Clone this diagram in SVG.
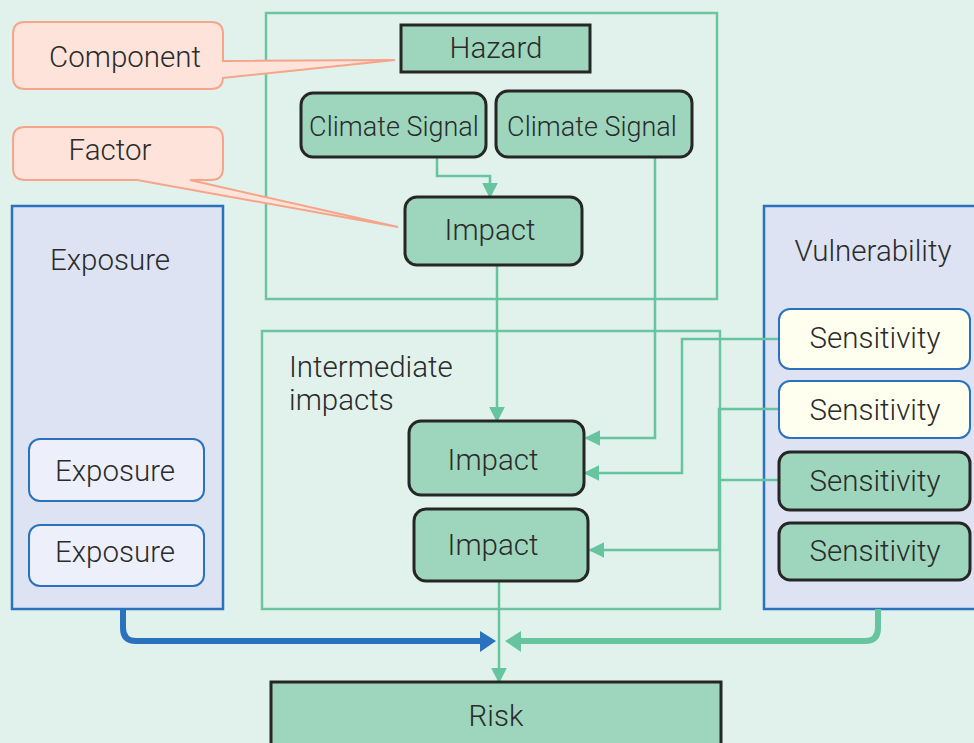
<svg xmlns="http://www.w3.org/2000/svg" width="974" height="743" viewBox="0 0 974 743">
<defs>
<style>
text{font-family:Roboto,"Liberation Sans",sans-serif;font-weight:300;fill:#2b2b2b;text-anchor:middle;dominant-baseline:central;font-size:29.5px}
.green{fill:#9dd6bd;stroke:#262626;stroke-width:3}
.frame{fill:none;stroke:#6cc5a0;stroke-width:2.5}
.panel{fill:#dde3f2;stroke:#2a72bd;stroke-width:2.5}
.call{fill:#fde3d9;stroke:#f4a58a;stroke-width:2}
.conn{fill:none;stroke:#66c49e;stroke-width:2.5}
.sensY{fill:#fffff0;stroke:#2a72bd;stroke-width:2}
.expo{fill:#edf0fb;stroke:#2a72bd;stroke-width:2}
</style>
<marker id="agS" viewBox="0 0 10 10" refX="9" refY="5" markerWidth="16" markerHeight="16" orient="auto" markerUnits="userSpaceOnUse">
<path d="M0,0 L10,5 L0,10 z" fill="#66c49e"/>
</marker>
</defs>
<rect x="0" y="0" width="974" height="743" fill="#e1f2ec"/>

<g id="hazard-frame"><rect class="frame" x="266" y="13" width="451" height="286"/></g>
<g id="intermediate-frame"><rect class="frame" x="262" y="331" width="458" height="278"/>
<text x="289" y="367" style="text-anchor:start">Intermediate</text>
<text x="289" y="400" style="text-anchor:start">impacts</text></g>

<g id="exposure-panel"><rect class="panel" x="12" y="206" width="211" height="403"/>
<text x="110" y="260">Exposure</text></g>
<g id="vulnerability-panel"><rect class="panel" x="764" y="206" width="214" height="403"/>
<text x="873" y="251">Vulnerability</text></g>

<g id="connectors">
<path class="conn" d="M437,157 V176 H490 V197" marker-end="url(#agS)"/>
<path class="conn" d="M497,265 V421" marker-end="url(#agS)"/>
<path class="conn" d="M655,157 V438 H586" marker-end="url(#agS)"/>
<path class="conn" d="M778,339 H682 V473 H585" marker-end="url(#agS)"/>
<path class="conn" d="M778,409 H719 V550 H590" marker-end="url(#agS)"/>
<path class="conn" d="M778,480 H719"/>
<path class="conn" d="M499,581 V682" marker-end="url(#agS)"/>
<path d="M123,609 V628 Q123,641 136,641 H482" fill="none" stroke="#2a72bd" stroke-width="6"/>
<path d="M480,631 L496,641 L480,652 z" fill="#2a72bd"/>
<path d="M878,609 V628 Q878,641 865,641 H520" fill="none" stroke="#66c49e" stroke-width="6"/>
<path d="M521,631 L505,641 L521,652 z" fill="#66c49e"/>
</g>

<g id="component-callout">
<path class="call" d="M25,22 H211 Q223,22 223,34 V61 L395,60 L223,78 V77 Q223,89 211,89 H25 Q13,89 13,77 V34 Q13,22 25,22 Z"/>
<text x="125" y="57">Component</text></g>
<g id="factor-callout">
<path class="call" d="M25,127 H211 Q223,127 223,139 V168 Q223,180 211,180 H190 L398,227 L137,180 H25 Q13,180 13,168 V139 Q13,127 25,127 Z"/>
<text x="110" y="150">Factor</text></g>

<g id="hazard"><rect class="green" x="401" y="25" width="189" height="47"/>
<text x="496" y="48">Hazard</text></g>
<g id="climate-signal-1"><rect class="green" x="301" y="93" width="185" height="64" rx="12"/>
<text x="394" y="127" style="font-size:27px">Climate Signal</text></g>
<g id="climate-signal-2"><rect class="green" x="496" y="91" width="196" height="66" rx="12"/>
<text x="592" y="127" style="font-size:27px">Climate Signal</text></g>
<g id="impact-top"><rect class="green" x="405" y="197" width="177" height="68" rx="12"/>
<text x="490" y="230">Impact</text></g>
<g id="impact-1"><rect class="green" x="409" y="421" width="175" height="74" rx="12"/>
<text x="493" y="460">Impact</text></g>
<g id="impact-2"><rect class="green" x="414" y="509" width="174" height="72" rx="12"/>
<text x="493" y="545">Impact</text></g>

<g id="exposure-1"><rect class="expo" x="29" y="439" width="175" height="62" rx="11"/>
<text x="115" y="471">Exposure</text></g>
<g id="exposure-2"><rect class="expo" x="29" y="525" width="175" height="61" rx="11"/>
<text x="115" y="552">Exposure</text></g>

<g id="sensitivity-1"><rect class="sensY" x="779" y="309" width="191" height="60" rx="11"/>
<text x="875" y="338">Sensitivity</text></g>
<g id="sensitivity-2"><rect class="sensY" x="779" y="381" width="191" height="57" rx="11"/>
<text x="875" y="410">Sensitivity</text></g>
<g id="sensitivity-3"><rect class="green" x="779" y="452" width="191" height="58" rx="11"/>
<text x="875" y="481">Sensitivity</text></g>
<g id="sensitivity-4"><rect class="green" x="779" y="523" width="191" height="57" rx="11"/>
<text x="875" y="551">Sensitivity</text></g>

<g id="risk"><rect class="green" x="271" y="682" width="450" height="70"/>
<text x="496" y="716">Risk</text></g>
</svg>
